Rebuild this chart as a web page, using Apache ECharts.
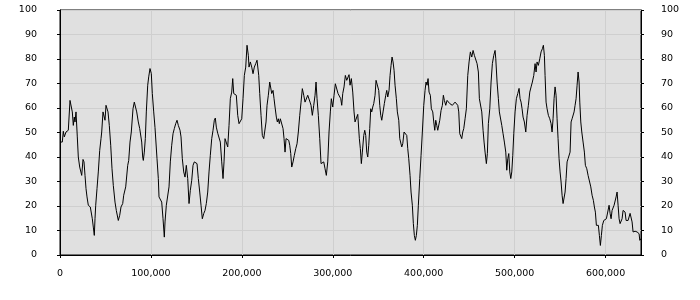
<!DOCTYPE html>
<html>
<head>
<meta charset="utf-8">
<script src="https://cdn.jsdelivr.net/npm/echarts@6/dist/echarts.min.js"></script>
<style>html,body{margin:0;padding:0;background:#fff}#c{width:700px;height:300px}</style>
</head>
<body>
<div id="c"></div>
<script>
var xs = [0,2530,3630,4730,5500,6600,7700,9130,11000,12100,13530,14630,15730,16500,17600,19030,20130,21670,22770,23870,25300,26400,27500,28600,29700,31130,33330,35530,36630,37730,38500,39270,40700,42130,43670,45100,45870,47300,48400,49500,50600,51700,52800,54230,55770,57200,58630,60500,61930,64130,65670,67100,68970,70070,72270,74470,75570,77000,78430,80300,81730,83270,84370,86130,87670,88770,89870,90970,91630,92730,93830,94930,96470,97570,99000,100430,101530,103070,104500,
106700,108130,108900,110330,111870,113300,114730,115500,116930,118470,119900,121330,122870,124300,125730,127270,128700,130130,132000,133100,134530,136070,137500,138930,140470,141900,143330,144870,146300,147730,149270,150700,152130,153670,155100,156530,158070,159500,160930,162470,163900,165330,166870,168300,169730,170830,171930,173470,174900,176330,177870,179300,180400,181500,182930,184470,185900,187330,188870,189970,191070,192500,193930,195470,196900,198330,199870,201300,202730,204270,205700,207130,207900,209330,210870,212300,213730,215270,216700,
218570,219670,221100,222530,224070,225500,226600,227700,229130,230670,231770,232870,234300,235400,236500,237930,239030,240130,241230,242330,243870,245300,246400,247500,248600,250030,251570,252670,253770,254870,256300,257730,259270,260700,262130,263670,265100,266530,268070,269500,270930,272470,273900,275000,276100,277530,279070,280500,281600,282700,284130,285670,287100,288530,290070,291500,292930,294470,295900,297330,298430,299970,301400,302830,304370,305800,307230,308770,309870,310970,312400,313830,315370,316470,317900,319000,320430,321970,323400,324500,325930,327470,328570,
329230,330330,331430,332530,334070,335170,336270,337370,338470,339570,340670,341770,342870,343970,345070,346500,347600,349030,350570,351670,352770,353870,355300,356730,358270,359370,360470,361900,363000,364100,365200,366300,367400,368500,369930,371030,372570,373670,374770,375870,376970,378400,379830,381370,382470,383570,385000,386100,387530,388630,389730,390830,391930,393030,394130,395670,397100,398530,400070,401500,402600,403700,404800,405900,407330,408430,409970,411070,412170,413270,414370,415470,416570,417670,419100,420530,421630,422730,424270,425700,427130,428670,430100,431530,433070,434500,435930,437470,438570,
439670,440770,441870,442970,444070,445500,446930,448470,449900,451330,452870,454300,455730,457270,458700,460130,461230,462770,463870,465300,466400,467500,468930,470030,471130,472670,474100,475530,477070,478500,479270,480700,482130,483230,484330,485870,487300,488730,490270,491370,492470,493570,494670,495770,496870,497970,499070,500500,501930,503470,504900,506000,507100,508200,509300,510730,512270,513700,515130,516670,518100,519530,521070,522500,523600,524700,526130,527670,529100,530530,531630,532730,533500,534600,535700,537130,538670,540100,541200,542300,543400,544500,545600,546700,547800,548900,550000,551100,552200,553300,554400,555500,556600,557700,558800,559900,561000,562100,563200,564300,565400,566500,567600,568700,569800,570900,571670,572770,573870,575300,576730,577830,579370,580800,582230,583770,585200,586630,587730,588830,589930,591030,592130,593230,594330,595430,596530,598070,599500,600930,602470,603900,605000,606100,607200,608300,609400,610500,611600,612700,613800,614900,616000,617100,618200,619300,620400,621500,622600,623700,624800,625900,627000,628100,629200,630300,631400,632500,633600,634700,635800,636900,637670,639000];

var ys = [46.1,46.1,50.5,48.2,47.5,50.2,49.5,50.9,63.1,63.1,58.4,52.9,56.3,54.3,58.4,48.2,40,35.9,35.2,32.5,39,38,32.5,27.1,23.7,20.3,19.6,14.8,11.4,8,14.8,20.3,27.1,33.9,42.7,47.5,50.2,58.4,59,55,61.1,61.8,58.4,52.9,44.8,35.2,28.4,21.6,18.2,14.1,16.2,19.6,21,24.4,27.8,36.6,38.6,46.1,50.2,59.7,62.4,63.1,58.4,54.3,51.6,52.2,46.1,40,38.6,42,47.5,58.4,69.3,72.7,76.1,74,65.9,58.4,52,
39.3,31.2,23.7,23.7,21.6,14.8,7.3,13.5,20.3,21,27.8,38,44.8,49.5,51.6,53.6,55,52.9,50.9,48.2,39.3,33.9,31.8,36.6,31.2,21,26.4,30.5,36.6,38,38.2,37.3,31.2,25.7,20.3,14.8,16.9,18.2,21,25.7,33.9,40.7,47.5,50.9,55,55.9,52.2,49.7,50.5,46.1,38,31.2,38,47.5,48.2,44.1,52.9,63.8,66.5,72,65.9,65.9,65.2,57,53.6,52.9,55.6,63.8,73.3,76.7,85.6,81.5,76.7,78.8,76.7,74,76.7,78.1,79.5,
73.3,65.9,57,48.8,47.5,48.2,54.3,61.1,65.2,70.6,69.9,65.9,67.2,63.8,60.4,56.3,54.3,55.6,53.6,55.6,55,51.6,47.5,42,47.5,48.2,46.8,44.8,41.4,35.9,38,40.7,43.4,45.4,50.2,57,62.4,67.9,65.2,62.4,61.8,65.2,65.9,62.4,61.1,57,61.1,65.2,70.6,63.8,57,47.5,37.3,36.6,38,35.2,32.5,38,50.2,58.4,63.8,60.4,65.2,69.9,69.3,65.9,65.2,63.8,61.1,65.9,68.6,73.3,71.3,70.6,73.6,69.3,72,66.5,58.4,54.3,55,57.4,58,
47.5,43.4,37.3,42,48.8,50.9,48.8,42,40,44.8,51.6,59.7,58.4,60.4,61.8,65.2,71.3,70.6,67.2,61.1,57,55,58.4,61.8,65.2,67.2,64.5,67.2,73.3,77.4,80.8,78.8,75.4,69.3,63.8,58.4,55,47.5,47.5,44.1,45.4,50.2,50.9,48.8,43.4,39.3,32.5,25.7,20.3,12.8,8,6,8,12.1,20.3,31.2,40.7,50.2,61.1,67.2,70.6,69.3,72,66.5,65.2,59.7,58.4,54.3,50.9,55,52.9,50.9,50.2,55,59,61.1,65.2,63.1,61.1,63.1,62.4,61.8,61.1,61.1,61.1,62.4,62.4,61.1,58.4,
49.5,48.8,47.5,50.2,51.6,55.6,59.7,73.3,78.8,82.9,80.8,83.5,81.5,81.5,78.1,74.7,63.8,63.1,58.4,50.9,46.1,42,37.3,41.4,53.6,59.7,70.6,78.1,81.5,83.5,80.1,70.6,63.8,58.4,57.7,52.9,49.5,46.1,42,34.6,39.3,41.4,33.9,31.2,33.9,40.7,49.5,58.4,63.8,65.9,68,63.8,62.4,59.7,56.3,54.3,50.2,57,61.1,66.5,68.6,70.6,73.3,78.1,74.7,78.8,77.4,80.1,82.9,84.2,85.6,81.5,73.3,62.4,59.7,57,55.6,53.6,50.2,55.6,63.8,68.6,65.2,55.6,47.5,39.3,33.9,29.8,24.4,21,20.3,25.7,31.2,38,39.3,38.6,42,54.3,55.6,56.3,58.4,61.1,63.8,69.3,74.7,70.6,62.4,54.3,50.2,46.1,42,36.6,35.2,32.5,31.8,27.8,24.4,22.3,19.6,17.5,12.1,11.4,12.1,8,3.9,8,12.1,14.1,14.8,14.8,14.8,20.3,17,14.8,18.2,17.5,20.3,21,23.7,25.7,20.3,14.8,12.8,12.1,14.8,18.2,18.2,17.5,14.1,14.1,14.1,14.8,17,16.2,13.5,9.4,8.7,9.7,9.7,9.4,10.1,8.7,6,6.7];

var xTicks = [0,100000,200000,300000,400000,500000,600000];
var yTicks = [0,10,20,30,40,50,60,70,80,90,100];

var font = 'DejaVu Sans';
var data = xs.map(function(x,i){return [x, ys[i]];});
var chart = echarts.init(document.getElementById('c'), null, {renderer:'canvas'});
var yCommon = {
  type:'value', min:yTicks[0], max:yTicks[yTicks.length-1], interval:10,
  axisLine:{show:true, lineStyle:{color:'#000', width:1}},
  axisTick:{show:true, length:3, lineStyle:{color:'#000'}},
  axisLabel:{color:'#000', fontFamily:font, fontSize:9.5}
};
chart.setOption({
  animation:false,
  backgroundColor:'#fff',
  grid:{left:60, right:59, top:10, bottom:45, show:true, backgroundColor:'#e0e0e0', borderColor:'#000', borderWidth:1},
  xAxis:{type:'value', min:0, max:639000, interval:100000,
    axisLine:{show:true, onZero:false, lineStyle:{color:'#000'}},
    axisTick:{show:true, length:3, lineStyle:{color:'#000'}},
    axisLabel:{color:'#000', fontFamily:font, fontSize:9.5, margin:14, showMaxLabel:false},
    splitLine:{show:true, lineStyle:{color:'#cfcfcf', width:1}}
  },
  yAxis:[
    Object.assign({}, yCommon, {position:'left',
      axisLabel:Object.assign({}, yCommon.axisLabel, {align:'right', margin:23}),
      splitLine:{show:true, lineStyle:{color:'#cfcfcf', width:1}}}),
    Object.assign({}, yCommon, {position:'right',
      axisLabel:Object.assign({}, yCommon.axisLabel, {align:'left', margin:20}),
      splitLine:{show:false}})
  ],
  series:[{type:'line', data:data, showSymbol:false, symbol:'none', yAxisIndex:0,
    lineStyle:{color:'#000', width:1}, itemStyle:{color:'#000'}}]
});
</script>
</body>
</html>
